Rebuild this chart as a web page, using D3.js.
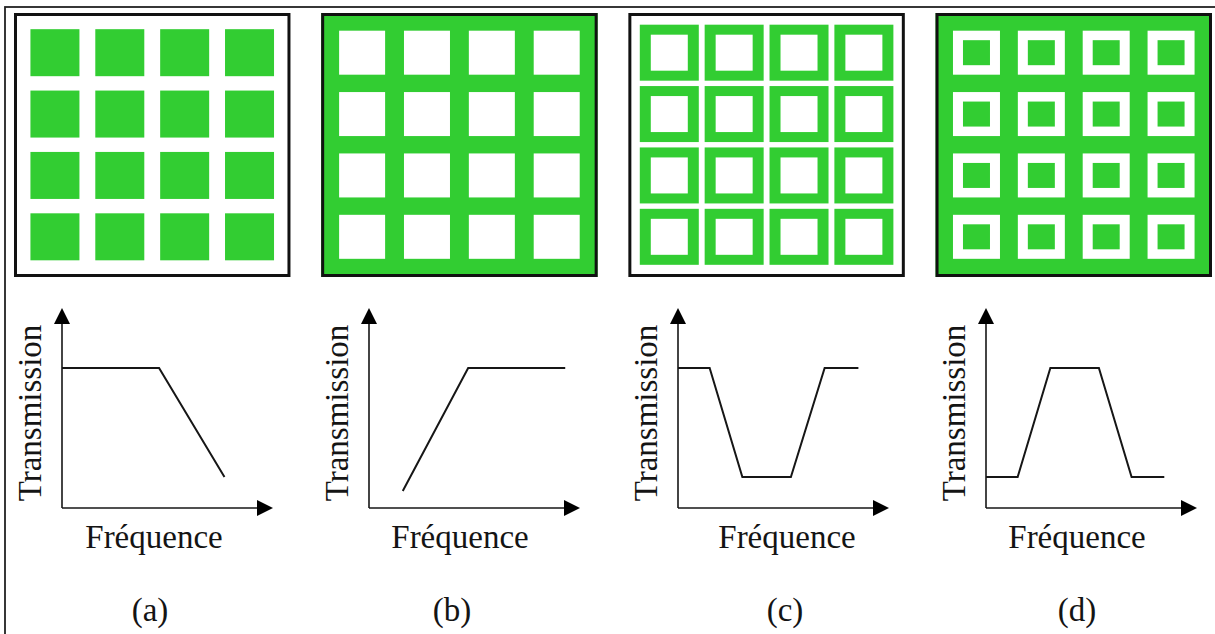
<!DOCTYPE html>
<html>
<head>
<meta charset="utf-8">
<script src="https://cdn.jsdelivr.net/npm/d3@7"></script>
<style>
  html, body { margin: 0; padding: 0; background: #fff; }
  svg { display: block; }
  text { font-family: "Liberation Serif", "Times New Roman", serif; fill: #141414; }
</style>
</head>
<body>
<svg id="fig" width="1215" height="634"></svg>
<script>
// Panel captions and surface types (a) to (d)
const panels = ["(a)", "(b)", "(c)", "(d)"];
const surfaceTypes = ["patch", "aperture", "loop", "slotLoop"];
const gridRows = [0, 1, 2, 3];
const gridCols = [0, 1, 2, 3];

// Axis titles
const xTitle = "Fréquence";
const yTitle = "Transmission";

// Transmission response of each surface (frequency 0-10, transmission 0-1)
const freqA = [0, 4.6, 7.7];
const transA = [0.70, 0.70, 0.155];
const freqB = [1.6, 4.7, 9.3];
const transB = [0.085, 0.70, 0.70];
const freqC = [0, 1.5, 3.05, 5.35, 6.95, 8.55];
const transC = [0.70, 0.70, 0.155, 0.155, 0.70, 0.70];
const freqD = [0, 1.5, 3.05, 5.35, 6.9, 8.45];
const transD = [0.155, 0.155, 0.70, 0.70, 0.155, 0.155];

const responses = [
  d3.zip(freqA, transA),
  d3.zip(freqB, transB),
  d3.zip(freqC, transC),
  d3.zip(freqD, transD)
];

const GREEN = "#32cd32";
const INK = "#161616";

const svg = d3.select("#fig");

// outer frame (only its top and left edges fall inside the view)
svg.append("rect")
  .attr("x", 5).attr("y", 7)
  .attr("width", 1300).attr("height", 700)
  .attr("fill", "none").attr("stroke", "#222").attr("stroke-width", 1.8);

// horizontal placement of the four surface boxes
const panelX = d3.scaleBand().domain(panels).range([14, 1212]).paddingInner(0.1).paddingOuter(0);
const boxTop = 13, boxBottom = 277;

// unit-cell sizes per surface type
const cellSpec = {
  patch:    { bg: "#fff", outer: [49, 47], outerFill: GREEN },
  aperture: { bg: GREEN,  outer: [46, 44], outerFill: "#fff" },
  loop:     { bg: "#fff", outer: [59, 56], outerFill: GREEN, inner: [37, 36], innerFill: "#fff" },
  slotLoop: { bg: GREEN,  outer: [47, 44], outerFill: "#fff", inner: [27, 25], innerFill: GREEN }
};

panels.forEach((p, i) => {
  const spec = cellSpec[surfaceTypes[i]];
  const x0 = panelX(p), bw = panelX.bandwidth();
  const g = svg.append("g");

  g.append("rect")
    .attr("x", x0).attr("y", boxTop)
    .attr("width", bw).attr("height", boxBottom - boxTop)
    .attr("fill", spec.bg);

  const cx = d3.scaleBand().domain(gridCols).range([x0 + 8.5, x0 + bw - 8.5]);
  const cy = d3.scaleBand().domain(gridRows).range([boxTop + 9, boxBottom - 9.5]);

  const cells = [];
  gridRows.forEach(r => gridCols.forEach(c => cells.push({ r, c })));

  const mid = d => [cx(d.c) + cx.bandwidth() / 2, cy(d.r) + cy.bandwidth() / 2];

  g.selectAll("rect.outer").data(cells).join("rect")
    .attr("class", "outer")
    .attr("x", d => mid(d)[0] - spec.outer[0] / 2)
    .attr("y", d => mid(d)[1] - spec.outer[1] / 2)
    .attr("width", spec.outer[0]).attr("height", spec.outer[1])
    .attr("fill", spec.outerFill);

  if (spec.inner) {
    g.selectAll("rect.inner").data(cells).join("rect")
      .attr("class", "inner")
      .attr("x", d => mid(d)[0] - spec.inner[0] / 2)
      .attr("y", d => mid(d)[1] - spec.inner[1] / 2)
      .attr("width", spec.inner[0]).attr("height", spec.inner[1])
      .attr("fill", spec.innerFill);
  }

  g.append("rect")
    .attr("x", x0 + 1.5).attr("y", boxTop + 1.5)
    .attr("width", bw - 3).attr("height", boxBottom - boxTop - 3)
    .attr("fill", "none").attr("stroke", "#111").attr("stroke-width", 3);
});

// response graphs
const axisLeft = [62, 369, 678, 986];
const axisLen = 211;
const yBase = 508, yTip = 308;
const xTitleX = [154, 460, 787, 1077];
const captionX = [150, 452, 785, 1077];

panels.forEach((p, i) => {
  const ox = axisLeft[i];
  const x = d3.scaleLinear().domain([0, 10]).range([ox, ox + axisLen]);
  const y = d3.scaleLinear().domain([0, 1]).range([yBase, yTip]);
  const g = svg.append("g");
  const head = 16, half = 8;

  // axes
  g.append("line")
    .attr("x1", x(0)).attr("y1", y(0)).attr("x2", x(0)).attr("y2", y(1) + head - 1)
    .attr("stroke", INK).attr("stroke-width", 1.6);
  g.append("line")
    .attr("x1", x(0)).attr("y1", y(0)).attr("x2", x(10) - head + 1).attr("y2", y(0))
    .attr("stroke", INK).attr("stroke-width", 1.6);

  // arrowheads
  g.append("path")
    .attr("d", `M${x(0)},${y(1)} L${x(0) - half},${y(1) + head} L${x(0) + half},${y(1) + head} Z`)
    .attr("fill", "#000");
  g.append("path")
    .attr("d", `M${x(10)},${y(0)} L${x(10) - head},${y(0) - half} L${x(10) - head},${y(0) + half} Z`)
    .attr("fill", "#000");

  // transmission curve
  g.append("path")
    .datum(responses[i])
    .attr("d", d3.line().x(d => x(d[0])).y(d => y(d[1])))
    .attr("fill", "none").attr("stroke", INK).attr("stroke-width", 2)
    .attr("stroke-linejoin", "miter");

  // axis titles
  g.append("text")
    .attr("transform", `translate(${ox - 21},${(yBase + yTip) / 2 + 5}) rotate(-90)`)
    .attr("text-anchor", "middle")
    .attr("font-size", 33)
    .text(yTitle);

  g.append("text")
    .attr("x", xTitleX[i]).attr("y", 548)
    .attr("text-anchor", "middle")
    .attr("font-size", 33)
    .text(xTitle);

  // caption
  g.append("text")
    .attr("x", captionX[i]).attr("y", 621)
    .attr("text-anchor", "middle")
    .attr("font-size", 33)
    .text(p);
});
</script>
</body>
</html>
